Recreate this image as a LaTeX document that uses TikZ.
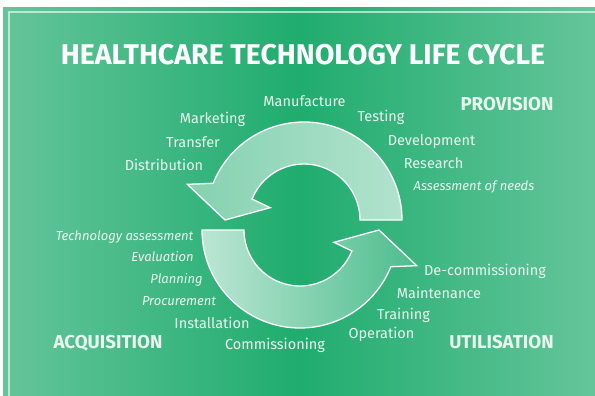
\documentclass[tikz,border=0pt]{standalone}
\usepackage{fontspec}
\setmainfont{Fira Sans}
\definecolor{bgmid}{HTML}{20AC6F}
\definecolor{bgedge}{HTML}{64C59A}
\definecolor{txt}{HTML}{E8F6EE}
\tikzset{
  stage/.style={font=\fontsize{14.5}{17}\selectfont, text=txt, anchor=mid},
  stageit/.style={stage, font=\fontsize{13}{15}\selectfont\itshape},
  phase/.style={font=\fontsize{18.7}{22}\selectfont\bfseries, text=txt, anchor=mid},
  cyclearrow/.style={draw=white, line width=1.3pt, line join=miter},
}
\begin{document}
\begin{tikzpicture}[x=1pt, y=-1pt]
  \useasboundingbox (0,0) rectangle (595,396);
  % panel
  \shade[left color=bgedge, right color=bgedge, middle color=bgmid] (3,8) rectangle (595,396);
  \draw[white, opacity=.6, line width=1.5pt] (9,396) -- (9,12) -- (595,12);

  % arrows
  \draw[cyclearrow, left color=bgmid!55!white, right color=bgmid!35!white]
    ([shift={(0:98)}]304,220) arc[start angle=0, end angle=-158, radius=98]
    -- ([shift={(-163:122)}]304,220) -- ([shift={(180:79)}]304,220)
    -- ([shift={(-160:36)}]304,220) -- ([shift={(-158:56)}]304,220)
    arc[start angle=-158, end angle=0, radius=56] -- cycle;
  \draw[cyclearrow, left color=bgmid!30!white, right color=bgmid!80!white]
    ([shift={(180:98)}]300,230) arc[start angle=180, end angle=22, radius=98]
    -- ([shift={(17:122)}]300,230) -- ([shift={(0:79)}]300,230)
    -- ([shift={(20:36)}]300,230) -- ([shift={(22:56)}]300,230)
    arc[start angle=22, end angle=180, radius=56] -- cycle;

  % title
  \node[font=\fontsize{28.5}{33}\selectfont\bfseries, text=white, anchor=mid] (title) at (303,62) {HEALTHCARE TECHNOLOGY LIFE CYCLE};

  % phases
  \node[phase] (provision) at (507,108) {PROVISION};
  \node[phase] (acquisition) at (108,346) {ACQUISITION};
  \node[phase] (utilisation) at (501.5,346) {UTILISATION};

  % provision
  \node[stage] (manufacture) at (304.5,104) {Manufacture};
  \node[stage] (marketing) at (212.5,121) {Marketing};
  \node[stage] (testing) at (381,119) {Testing};
  \node[stage] (transfer) at (193,145) {Transfer};
  \node[stage] (development) at (431.5,143) {Development};
  \node[stage] (distribution) at (164,168) {Distribution};
  \node[stage] (research) at (433.5,166) {Research};
  \node[stageit] (needs) at (474,188) {Assessment of needs};

  % acquisition
  \node[stageit] (techassess) at (124.5,238) {Technology assessment};
  \node[stageit] (evaluation) at (162.5,259) {Evaluation};
  \node[stageit] (planning) at (176.5,281) {Planning};
  \node[stageit] (procurement) at (179,303) {Procurement};
  \node[stage] (installation) at (212,326) {Installation};
  \node[stage] (commissioning) at (275,347) {Commissioning};

  % utilisation
  \node[stage] (decommissioning) at (485,273) {De-commissioning};
  \node[stage] (maintenance) at (439,296) {Maintenance};
  \node[stage] (training) at (403.5,317) {Training};
  \node[stage] (operation) at (381.5,336) {Operation};
\end{tikzpicture}
\end{document}
